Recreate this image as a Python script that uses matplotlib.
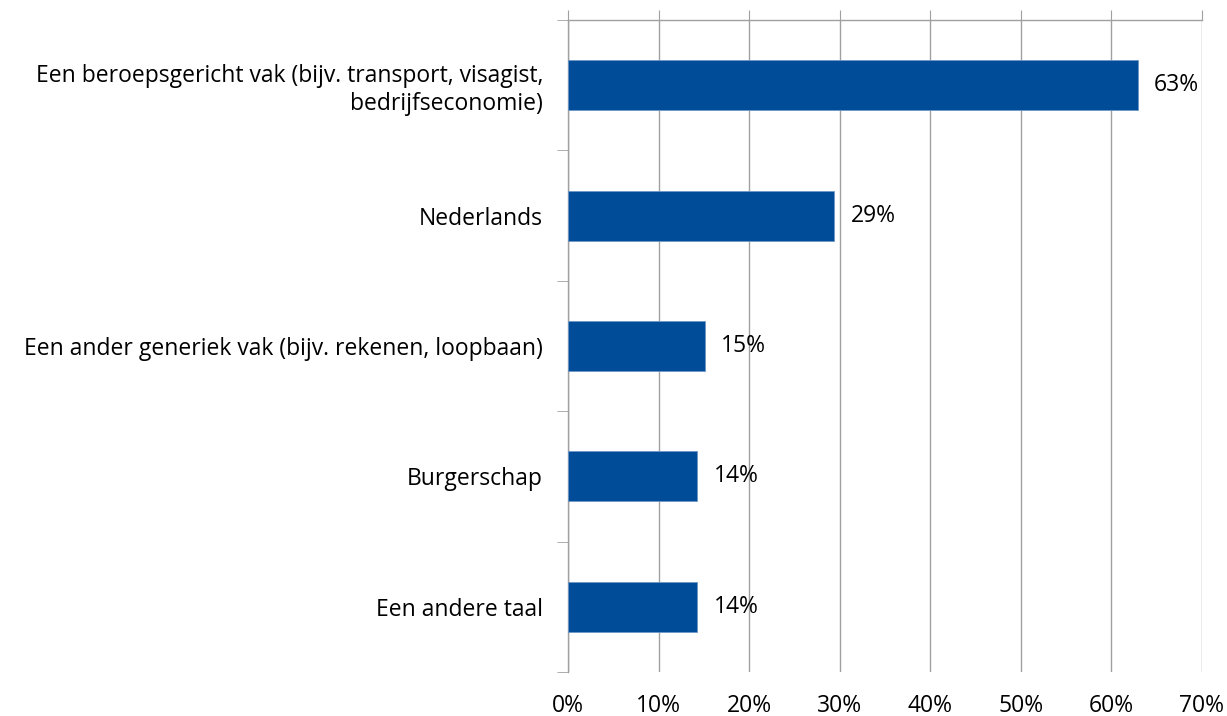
import matplotlib.pyplot as plt
from matplotlib.ticker import FixedLocator

# data
categories = [
    "Een beroepsgericht vak (bijv. transport, visagist,\nbedrijfseconomie)",
    "Nederlands",
    "Een ander generiek vak (bijv. rekenen, loopbaan)",
    "Burgerschap",
    "Een andere taal",
]
values = [62.9, 29.4, 15.1, 14.3, 14.3]
value_labels = ["63%", "29%", "15%", "14%", "14%"]
x_ticks = [0, 10, 20, 30, 40, 50, 60, 70]
x_tick_labels = ["0%", "10%", "20%", "30%", "40%", "50%", "60%", "70%"]

plt.rcParams['font.family'] = ['Open Sans', 'DejaVu Sans']
grey = '#A0A0A0'
bar_color = '#004C99'
fs = 16.5

fig = plt.figure(figsize=(12.27, 7.16), dpi=100)
ax = fig.add_axes([0.4629, 0.0615, 0.9796 - 0.4629, 0.972 - 0.0615])

pos = list(range(len(categories)))
ax.barh(pos, values, height=0.385, color=bar_color, edgecolor='#6F97C8',
        linewidth=0.6, zorder=3)

for p, v, lab in zip(pos, values, value_labels):
    ax.text(v + 1.8, p, lab, va='center', ha='left', fontsize=fs, zorder=4)

ax.set_xlim(0, 70)
ax.set_ylim(len(categories) - 0.5, -0.5)

ax.set_xticks(x_ticks)
ax.set_xticklabels(x_tick_labels, fontsize=fs)
ax.tick_params(axis='x', top=True, bottom=False, labeltop=False, labelbottom=True,
               direction='out', length=7, color=grey, pad=9)
ax.grid(axis='x', color=grey, linewidth=1, zorder=0)

ax.set_yticks(pos)
ax.set_yticklabels(categories, fontsize=fs, ha='right', multialignment='right')
ax.tick_params(axis='y', which='major', length=0, pad=18)
ax.yaxis.set_minor_locator(FixedLocator([i - 0.5 for i in range(len(categories) + 1)]))
ax.tick_params(axis='y', which='minor', length=8, color=grey, direction='out')

for side in ['right', 'bottom']:
    ax.spines[side].set_visible(False)
for side in ['left', 'top']:
    ax.spines[side].set_color(grey)
    ax.spines[side].set_linewidth(1)

fig.savefig('out.png', dpi=100)
